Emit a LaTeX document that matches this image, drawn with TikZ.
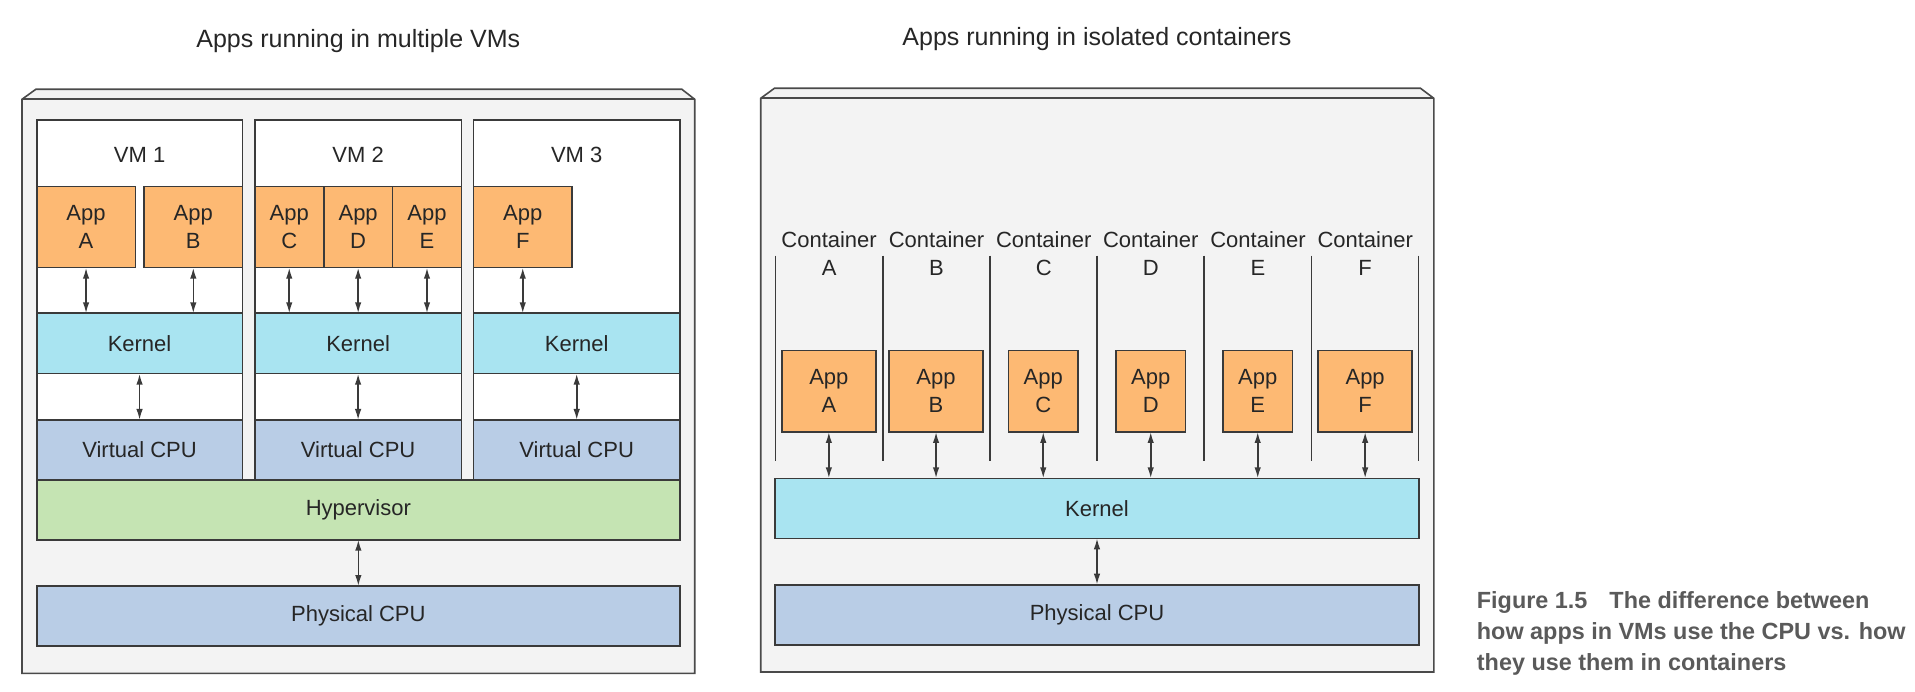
\documentclass[tikz,border=0pt]{standalone}
\usepackage{fontspec}
\setmainfont{Liberation Sans}
\usetikzlibrary{arrows.meta}
\definecolor{bordc}{HTML}{3A3A3A}
\definecolor{txtc}{HTML}{262626}
\definecolor{panelfill}{HTML}{F3F3F3}
\definecolor{panelline}{HTML}{4A4A4A}
\definecolor{appc}{HTML}{FDB973}
\definecolor{kernc}{HTML}{A9E4F1}
\definecolor{cpuc}{HTML}{B9CDE6}
\definecolor{hypc}{HTML}{C5E4B3}
\definecolor{capc}{HTML}{5A5A5A}
\newcommand{\fs}{\fontsize{22}{28}\selectfont}
\newcommand{\rbox}[7]{\node[box,#6,minimum width={(#4-#2)*1pt},minimum height={(#5-#3)*1pt}] (#1) at ({(#2+#4)/2},{(#3+#5)/2}) {#7};}
\tikzset{
  box/.style={draw=bordc, line width=1.6pt, inner sep=0pt, outer sep=0pt, font=\fs, text=txtc, align=center},
  lbl/.style={inner sep=0pt, font=\fs, text=txtc, align=center},
  ttl/.style={inner sep=0pt, font=\fontsize{25}{30}\selectfont, text=txtc},
  panel/.style={fill=panelfill, draw=panelline, line width=1.6pt, line join=miter},
  divider/.style={draw=bordc, line width=1.5pt},
  dbl/.style={{Latex[length=11pt,width=6.5pt]}-{Latex[length=11pt,width=6.5pt]}, line width=1.6pt, draw=bordc},
  captext/.style={inner sep=0pt, anchor=base west, font=\fontsize{23.4}{31}\selectfont\bfseries, text=capc}
}
\begin{document}
\begin{tikzpicture}[x=1pt,y=-1pt]
\useasboundingbox (0,0) rectangle (1915,692);
% titles
\node[ttl] (t1) at (358.3,41) {Apps running in multiple VMs};
\node[ttl] (t2) at (1097,39.5) {Apps running in isolated containers};
% ---------- left panel ----------
\draw[panel] (22,673.3) -- (22,99.3) -- (35.8,89.3) -- (681.9,89.3) -- (694.7,99.3) -- (694.7,673.3) -- cycle;
\draw[panel] (22,99.3) -- (694.7,99.3);
% VM frames
\rbox{vm1}{36.7}{120}{242.4}{479.7}{fill=white}{}
\rbox{vm2}{254.8}{120}{461.4}{479.7}{fill=white}{}
\rbox{vm3}{473.4}{120}{680.0}{479.7}{fill=white}{}
\node[lbl] (vm1l) at (139.6,155) {VM 1};
\node[lbl] (vm2l) at (358.1,155) {VM 2};
\node[lbl] (vm3l) at (576.7,155) {VM 3};
% apps
\rbox{la}{36.7}{186.7}{135.4}{267.7}{fill=appc}{App\\A}
\rbox{lb}{144.2}{186.7}{242.4}{267.7}{fill=appc}{App\\B}
\rbox{lc}{254.8}{186.7}{323.7}{267.7}{fill=appc}{App\\C}
\rbox{ld}{323.7}{186.7}{392.6}{267.7}{fill=appc}{App\\D}
\rbox{le}{392.6}{186.7}{461.4}{267.7}{fill=appc}{App\\E}
\rbox{lf}{473.4}{186.7}{572.1}{267.7}{fill=appc}{App\\F}
% kernels
\rbox{k1}{36.7}{313.3}{242.4}{373.7}{fill=kernc}{Kernel}
\rbox{k2}{254.8}{313.3}{461.4}{373.7}{fill=kernc}{Kernel}
\rbox{k3}{473.4}{313.3}{680.0}{373.7}{fill=kernc}{Kernel}
% virtual cpus
\rbox{v1}{36.7}{420}{242.4}{479.7}{fill=cpuc}{Virtual CPU}
\rbox{v2}{254.8}{420}{461.4}{479.7}{fill=cpuc}{Virtual CPU}
\rbox{v3}{473.4}{420}{680.0}{479.7}{fill=cpuc}{Virtual CPU}
% hypervisor and physical cpu
\rbox{hyp}{36.7}{479.7}{680.0}{539.7}{fill=hypc}{Hypervisor}
\rbox{pl}{36.7}{586}{680.0}{646}{fill=cpuc}{Physical CPU}
% arrows
\draw[dbl] (la.south) -- (la.south |- k1.north);
\draw[dbl] (lb.south) -- (lb.south |- k1.north);
\draw[dbl] (lc.south) -- (lc.south |- k2.north);
\draw[dbl] (ld.south) -- (ld.south |- k2.north);
\draw[dbl] (le.south) -- (le.south |- k2.north);
\draw[dbl] (lf.south) -- (lf.south |- k3.north);
\draw[dbl] (k1.south) -- (v1.north);
\draw[dbl] (k2.south) -- (v2.north);
\draw[dbl] (k3.south) -- (v3.north);
\draw[dbl] (hyp.south) -- (pl.north);
% ---------- right panel ----------
\draw[panel] (760.7,672) -- (760.7,98.3) -- (774.4,88.3) -- (1420.5,88.3) -- (1433.8,98.3) -- (1433.8,672) -- cycle;
\draw[panel] (760.7,98.3) -- (1433.8,98.3);
% dividers
\foreach \x [count=\i] in {775.4,882.8,990.2,1097.2,1204.2,1311.7,1418.6} {
  \coordinate (dt\i) at (\x,255.7);
  \coordinate (db\i) at (\x,461);
  \draw[divider] (dt\i) -- (db\i);
}
% container labels
\node[lbl,text depth=0pt] (cl1) at (829.1,253.6) {Container\\A};
\node[lbl,text depth=0pt] (cl2) at (936.5,253.6) {Container\\B};
\node[lbl,text depth=0pt] (cl3) at (1043.7,253.6) {Container\\C};
\node[lbl,text depth=0pt] (cl4) at (1150.7,253.6) {Container\\D};
\node[lbl,text depth=0pt] (cl5) at (1258,253.6) {Container\\E};
\node[lbl,text depth=0pt] (cl6) at (1365.2,253.6) {Container\\F};
% container apps
\rbox{ra}{781.8}{350.7}{875.9}{432}{fill=appc}{App\\A}
\rbox{rb}{889.2}{350.7}{982.9}{432}{fill=appc}{App\\B}
\rbox{rc}{1008.6}{350.7}{1077.9}{432}{fill=appc}{App\\C}
\rbox{rd}{1116.0}{350.7}{1185.4}{432}{fill=appc}{App\\D}
\rbox{re}{1223.0}{350.7}{1292.4}{432}{fill=appc}{App\\E}
\rbox{rf}{1318.1}{350.7}{1412.2}{432}{fill=appc}{App\\F}
\rbox{rk}{774.9}{478.3}{1419.1}{538.3}{fill=kernc}{Kernel}
\rbox{rp}{774.9}{584.7}{1419.1}{645}{fill=cpuc}{Physical CPU}
\draw[dbl] (ra.south) -- (ra.south |- rk.north);
\draw[dbl] (rb.south) -- (rb.south |- rk.north);
\draw[dbl] (rc.south) -- (rc.south |- rk.north);
\draw[dbl] (rd.south) -- (rd.south |- rk.north);
\draw[dbl] (re.south) -- (re.south |- rk.north);
\draw[dbl] (rf.south) -- (rf.south |- rk.north);
\draw[dbl] (rk.south) -- (rp.north);
% caption
\node[captext] (cap1) at (1476.7,608.5) {Figure 1.5\hspace{22pt}The difference between};
\node[captext] (cap2) at (1476.7,639.5) {how apps in VMs use the CPU vs. how};
\node[captext] (cap3) at (1476.7,670) {they use them in containers};
\end{tikzpicture}
\end{document}
